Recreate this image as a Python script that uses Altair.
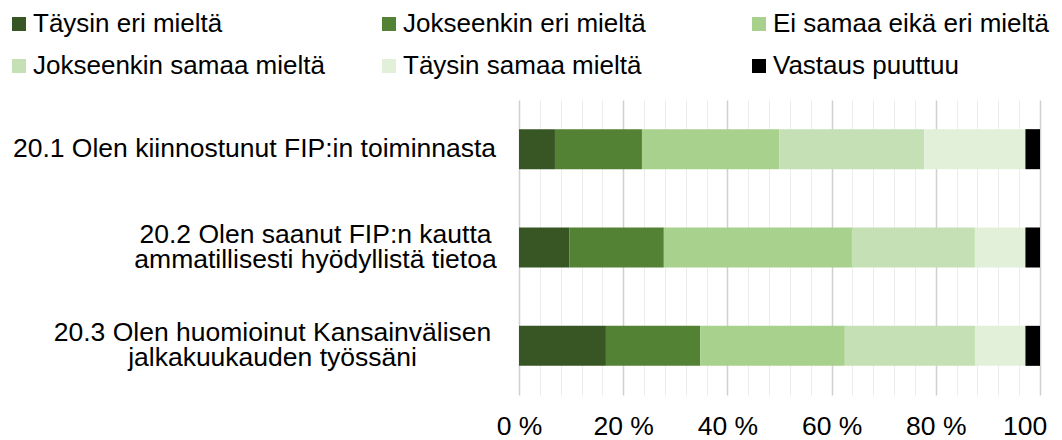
import altair as alt
import pandas as pd

questions = [
    "20.1 Olen kiinnostunut FIP:in toiminnasta",
    "20.2 Olen saanut FIP:n kautta |ammatillisesti hyödyllistä tietoa",
    "20.3 Olen huomioinut Kansainvälisen|jalkakuukauden työssäni",
]
categories = [
    "Täysin eri mieltä",
    "Jokseenkin eri mieltä",
    "Ei samaa eikä eri mieltä",
    "Jokseenkin samaa mieltä",
    "Täysin samaa mieltä",
    "Vastaus puuttuu",
]
colors = ["#375623", "#548235", "#A9D18E", "#C5E0B4", "#E2F0D9", "#000000"]

taysin_eri = [6.9, 9.7, 16.7]
jokseenkin_eri = [16.7, 18.1, 18.1]
ei_samaa_eika_eri = [26.4, 36.1, 27.8]
jokseenkin_samaa = [27.8, 23.6, 25.0]
taysin_samaa = [19.4, 9.7, 9.7]
vastaus_puuttuu = [2.8, 2.8, 2.8]

series = [taysin_eri, jokseenkin_eri, ei_samaa_eika_eri,
          jokseenkin_samaa, taysin_samaa, vastaus_puuttuu]

rows = []
for ci, (cat, vals) in enumerate(zip(categories, series)):
    for q, v in zip(questions, vals):
        rows.append({"kysymys": q, "vastaus": cat, "osuus": v, "jarjestys": ci})
df = pd.DataFrame(rows)

FONT = "Liberation Sans"
FS = 26.5

x_ticks = [i / 100 for i in range(0, 101, 4)]
is_major = "round(datum.value*100) % 20 === 0"

chart = alt.Chart(df).mark_bar(strokeWidth=0).encode(
    y=alt.Y(
        "kysymys:N",
        sort=questions,
        title=None,
        scale=alt.Scale(paddingInner=0.593, paddingOuter=0.2965),
        axis=alt.Axis(
            domain=False,
            ticks=False,
            tickSize=0,
            grid=False,
            labelExpr="split(datum.label, '|')",
            labelFont=FONT,
            labelFontSize=FS,
            labelColor="#000000",
            labelAlign="center",
            labelBaseline="middle",
            labelLineHeight=25,
            labelLimit=600,
            labelOffset={
                "condition": {"test": "indexof(datum.value, '|') >= 0", "value": -12.5},
                "value": 0,
            },
            labelPadding={
                "condition": [
                    {"test": "indexof(datum.value, '20.1') === 0", "value": 265},
                    {"test": "indexof(datum.value, '20.2') === 0", "value": 204},
                ],
                "value": 247,
            },
        ),
    ),
    x=alt.X(
        "osuus:Q",
        stack="normalize",
        title=None,
        scale=alt.Scale(domain=[0, 1], nice=False),
        axis=alt.Axis(
            values=x_ticks,
            domain=False,
            ticks=False,
            grid=True,
            gridColor={"condition": {"test": is_major, "value": "#D0D0D0"}, "value": "#ECECEC"},
            gridWidth={"condition": {"test": is_major, "value": 1.5}, "value": 1},
            labelExpr=is_major + " ? round(datum.value*100) + ' %' : ''",
            labelFont=FONT,
            labelFontSize=FS,
            labelColor="#000000",
            labelPadding=18,
            labelFlush=False,
            labelOverlap=False,
            labelBound=False,
        ),
    ),
    color=alt.Color(
        "vastaus:N",
        scale=alt.Scale(domain=categories, range=colors),
        legend=alt.Legend(
            title=None,
            orient="none",
            legendX=-513,
            legendY=-89,
            direction="horizontal",
            columns=3,
            gridAlign="all",
            columnPadding=51,
            rowPadding=16,
            symbolType="square",
            symbolSize=196,
            symbolStrokeWidth=0,
            labelFont=FONT,
            labelFontSize=26,
            labelColor="#000000",
            labelOffset=1,
            labelLimit=600,
        ),
    ),
    order=alt.Order("jarjestys:Q"),
).properties(
    width=521,
    height=295,
    autosize=alt.AutoSizeParams(type="none"),
    padding={"left": 511, "top": 92, "right": 14, "bottom": 45},
).configure_view(stroke=None)

chart.save("out.html", embed_options={"renderer": "svg", "actions": False})
